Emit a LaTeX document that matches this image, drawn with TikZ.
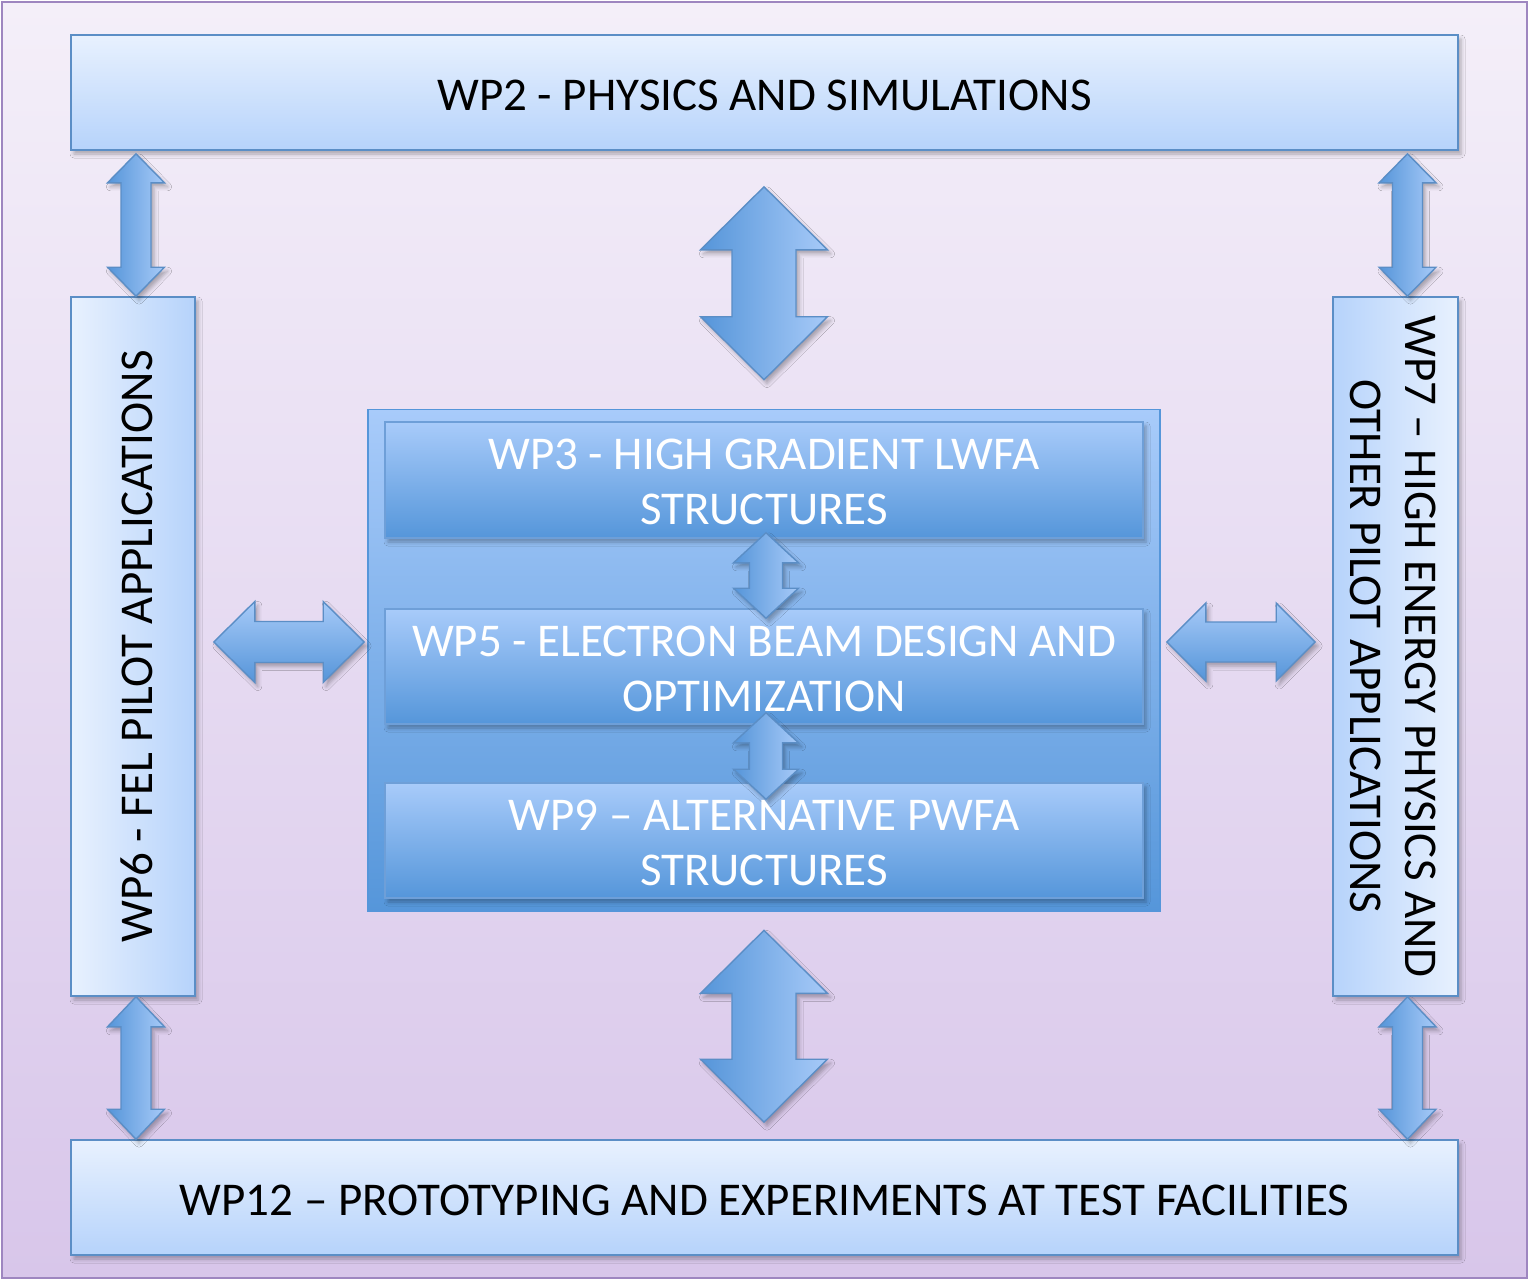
\documentclass[tikz,border=0pt]{standalone}
\usepackage{fontspec}
\setmainfont{Carlito}
\usetikzlibrary{calc,shadows.blur}

\definecolor{frameline}{HTML}{9E86C0}
\definecolor{bgtop}{HTML}{F4EFF9}
\definecolor{bgbot}{HTML}{D8C6EA}
\definecolor{palelight}{HTML}{E8F1FE}
\definecolor{paledark}{HTML}{B6D3FB}
\definecolor{edgeblue}{HTML}{5B8EC6}
\definecolor{coretop}{HTML}{A8CBFA}
\definecolor{corebot}{HTML}{5596DA}
\definecolor{inneredge}{HTML}{6E9FD8}
\definecolor{arrowlight}{HTML}{A7CAF8}
\definecolor{arrowdark}{HTML}{5595D9}

\tikzset{
  softshadow/.style={blur shadow={shadow xshift=3pt, shadow yshift=-4pt,
      shadow blur radius=4pt, shadow opacity=30}},
  outerbox/.style={rectangle, inner sep=0pt, draw=edgeblue, line width=1.6pt,
      softshadow},
  hbox/.style={outerbox, top color=palelight, bottom color=paledark},
  innerbox/.style={rectangle, inner sep=0pt, draw=inneredge, line width=1.6pt,
      top color=coretop, bottom color=corebot, softshadow},
  lbl/.style={font=\fontsize{47}{55}\selectfont, align=center, inner sep=0pt},
  arrowbody/.style={draw=edgeblue, line width=1.4pt, line join=miter, softshadow},
  % vertical double block arrow: head half-width, shaft half-width, head length
  vbiarrow/.style n args={3}{arrowbody, left color=arrowdark, right color=arrowlight,
    to path={let \p1=(\tikztostart), \p2=(\tikztotarget) in
      (\x1,\y1) -- (\x1+#1pt,\y1-#3pt) -- (\x1+#2pt,\y1-#3pt) -- (\x1+#2pt,\y2+#3pt)
      -- (\x1+#1pt,\y2+#3pt) -- (\x1,\y2) -- (\x1-#1pt,\y2+#3pt) -- (\x1-#2pt,\y2+#3pt)
      -- (\x1-#2pt,\y1-#3pt) -- (\x1-#1pt,\y1-#3pt) -- cycle}},
  % horizontal double block arrow: head half-width, shaft half-width, head length
  hbiarrow/.style n args={3}{arrowbody, top color=arrowlight, bottom color=arrowdark,
    to path={let \p1=(\tikztostart), \p2=(\tikztotarget) in
      (\x1,\y1) -- (\x1+#3pt,\y1+#1pt) -- (\x1+#3pt,\y1+#2pt) -- (\x2-#3pt,\y1+#2pt)
      -- (\x2-#3pt,\y1+#1pt) -- (\x2,\y1) -- (\x2-#3pt,\y1-#1pt) -- (\x2-#3pt,\y1-#2pt)
      -- (\x1+#3pt,\y1-#2pt) -- (\x1+#3pt,\y1-#1pt) -- cycle}},
}

\begin{document}
\begin{tikzpicture}[x=1pt,y=1pt]
\useasboundingbox (0,0) rectangle (1529,-1280);

% page frame
\draw[frameline, line width=2pt, top color=bgtop, bottom color=bgbot]
  (2,-2) rectangle (1527,-1278);

% outer work packages
\node[hbox, minimum width=1387pt, minimum height=115pt] (wp2) at (764.5,-92.5) {};
\node[hbox, minimum width=1387pt, minimum height=115pt] (wp12) at (764.5,-1197.5) {};
\node[outerbox, minimum width=124pt, minimum height=699pt,
      left color=palelight, right color=paledark] (wp6) at (133,-646.5) {};
\node[outerbox, minimum width=125pt, minimum height=699pt,
      left color=paledark, right color=palelight] (wp7) at (1395.5,-646.5) {};

% core block with the three technical packages
\node[rectangle, inner sep=0pt, draw=corebot, line width=1.6pt,
      top color=coretop, bottom color=corebot,
      minimum width=792pt, minimum height=502pt] (core) at (764,-660.5) {};
\node[innerbox, minimum width=758pt, minimum height=116pt] (wp3) at (764,-480) {};
\node[innerbox, minimum width=758pt, minimum height=115pt] (wp5) at (764,-666.5) {};
\node[innerbox, minimum width=758pt, minimum height=115pt] (wp9) at (764,-840.5) {};

% attachment points of the side links
\coordinate (w6n) at ([xshift=3]wp6.north);
\coordinate (w6s) at ([xshift=3]wp6.south);
\coordinate (w7n) at ([xshift=12]wp7.north);
\coordinate (w7s) at ([xshift=12]wp7.south);

% links between the packages
\draw[vbiarrow={28.5}{15}{29}] ([yshift=-3]w6n |- wp2.south) to (w6n);
\draw[vbiarrow={28.5}{15}{29}] ([yshift=-3]w7n |- wp2.south) to (w7n);
\draw[vbiarrow={28.5}{15}{30}] (w6s) to (w6s |- wp12.north);
\draw[vbiarrow={28.5}{15}{30}] (w7s) to (w7s |- wp12.north);
\draw[vbiarrow={63.5}{32}{63}] ([yshift=-36]core.north |- wp2.south) to ([yshift=29]core.north);
\draw[vbiarrow={63.5}{32}{63}] ([yshift=-18]core.south) to ([yshift=17]core.south |- wp12.north);
\draw[hbiarrow={40.5}{20.5}{41}] ([shift={(18,4.5)}]wp6.east) to ([shift={(-3,18.5)}]core.west);
\draw[hbiarrow={39}{20}{39}] ([shift={(6,18.5)}]core.east) to ([shift={(-17,4.5)}]wp7.west);
\draw[vbiarrow={32.5}{16.5}{30}] ([shift={(2,6)}]wp3.south) to ([shift={(2,-10)}]wp5.north);
\draw[vbiarrow={32.5}{16.5}{30}] ([shift={(2,12)}]wp5.south) to ([shift={(2,-17)}]wp9.north);

% labels
\node[lbl] (t2) at ([yshift=-3]wp2.center) {WP2 - PHYSICS AND SIMULATIONS};
\node[lbl] (t12) at ([yshift=-3]wp12.center) {WP12 – PROTOTYPING AND EXPERIMENTS AT TEST FACILITIES};
\node[lbl, rotate=90] (t6) at ([xshift=4]wp6.center) {WP6 - FEL PILOT APPLICATIONS};
\node[lbl, rotate=-90] (t7) at ([xshift=-2]wp7.center) {WP7 – HIGH ENERGY PHYSICS AND\\OTHER PILOT APPLICATIONS};
\node[lbl, text=white] (t3) at ([yshift=-2]wp3.center) {WP3 - HIGH GRADIENT LWFA\\STRUCTURES};
\node[lbl, text=white] (t5) at ([yshift=-2]wp5.center) {WP5 - ELECTRON BEAM DESIGN AND\\OPTIMIZATION};
\node[lbl, text=white] (t9) at ([yshift=-2]wp9.center) {WP9 – ALTERNATIVE PWFA\\STRUCTURES};
\end{tikzpicture}
\end{document}
